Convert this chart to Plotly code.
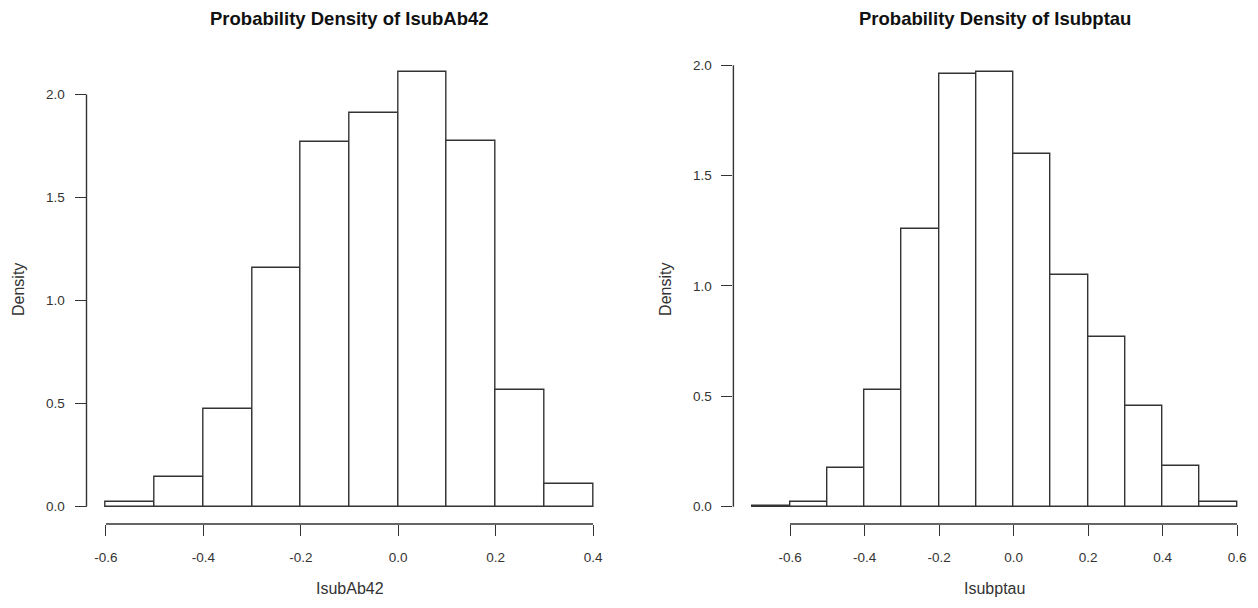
import numpy as np
import plotly.graph_objects as go

# ---- data ----
left_breaks = [-0.6, -0.5, -0.4, -0.3, -0.2, -0.1, 0.0, 0.1, 0.2, 0.3, 0.4]
left_density = [0.024, 0.146, 0.476, 1.160, 1.767, 1.908, 2.107, 1.772, 0.568, 0.112]
left_xticks = [-0.6, -0.4, -0.2, 0.0, 0.2, 0.4]
left_xticktext = ["-0.6", "-0.4", "-0.2", "0.0", "0.2", "0.4"]

right_breaks = [-0.7, -0.6, -0.5, -0.4, -0.3, -0.2, -0.1, 0.0, 0.1, 0.2, 0.3, 0.4, 0.5, 0.6]
right_density = [0.005, 0.023, 0.176, 0.530, 1.258, 1.960, 1.968, 1.600, 1.050, 0.770, 0.457, 0.186, 0.023]
right_xticks = [-0.6, -0.4, -0.2, 0.0, 0.2, 0.4, 0.6]
right_xticktext = ["-0.6", "-0.4", "-0.2", "0.0", "0.2", "0.4", "0.6"]

yticks = [0.0, 0.5, 1.0, 1.5, 2.0]
yticktext = ["0.0", "0.5", "1.0", "1.5", "2.0"]

titles = ["Probability Density of IsubAb42", "Probability Density of Isubptau"]
xlabels = ["IsubAb42", "Isubptau"]
ylabel = "Density"

# ---- style ----
OFF = 8                      # page body margin
W, H = 1258 - OFF, 608 - OFF
LINE = "#333333"
TEXT = "#333333"
FONT = "Liberation Sans, Arial, sans-serif"


def px(x):
    return (x - OFF) / W


def py(y):
    return 1 - (y - OFF) / H


fig = go.Figure()

panels = [
    (left_breaks, left_density, left_xticks, left_xticktext, "x", "y", (86.5, 612.5)),
    (right_breaks, right_density, right_xticks, right_xticktext, "x2", "y2", (733.4, 1256.4)),
]
ytop, ybot = 55, 524

layout = dict(
    width=W, height=H,
    margin=dict(l=0, r=0, t=0, b=0, autoexpand=False),
    paper_bgcolor="white", plot_bgcolor="white",
    showlegend=False,
    font=dict(family=FONT, color=TEXT, size=13.5),
    bargap=0,
)
shapes = []
annotations = []

for i, (breaks, dens, xt, xtt, xa, ya, (px0, px1)) in enumerate(panels):
    b = np.array(breaks)
    centers = (b[:-1] + b[1:]) / 2
    widths = np.diff(b)
    fig.add_trace(go.Bar(
        x=centers, y=dens, width=widths,
        marker=dict(color="white", line=dict(color=LINE, width=1.4)),
        xaxis=xa, yaxis=ya, hoverinfo="x+y",
    ))
    xr = b[-1] - b[0]
    xrange = [b[0] - 0.04 * xr, b[-1] + 0.04 * xr]
    ymax = max(dens)
    yrange = [-0.04 * ymax, ymax * 1.04]
    suffix = "" if i == 0 else "2"
    layout["xaxis" + suffix] = dict(
        domain=[px(px0), px(px1)], range=xrange, anchor=ya,
        tickvals=xt, ticktext=xtt, ticks="outside", ticklen=11, tickwidth=1.4,
        tickcolor=LINE, showgrid=False, zeroline=False, showline=False,
        ticklabelstandoff=10,
        tickfont=dict(size=13.5, color=TEXT), fixedrange=True,
    )
    layout["yaxis" + suffix] = dict(
        domain=[py(ybot), py(ytop)], range=yrange, anchor=xa,
        tickvals=yticks, ticktext=yticktext, ticks="outside", ticklen=11, tickwidth=1.4,
        tickcolor=LINE, showgrid=False, zeroline=False, showline=False,
        ticklabelstandoff=7,
        tickfont=dict(size=13.5, color=TEXT), fixedrange=True,
    )
    # R-style axis lines spanning the tick range
    shapes.append(dict(type="line", xref=xa, yref=ya + " domain",
                       x0=xt[0], x1=xt[-1], y0=0, y1=0,
                       line=dict(color=LINE, width=1.4)))
    shapes.append(dict(type="line", xref=xa + " domain", yref=ya,
                       x0=0, x1=0, y0=yticks[0], y1=yticks[-1],
                       line=dict(color=LINE, width=1.4)))
    cx = px((px0 + px1) / 2)
    annotations.append(dict(text="<b>" + titles[i] + "</b>", xref="paper", yref="paper",
                            x=cx, y=py(19), xanchor="center", yanchor="middle", showarrow=False,
                            font=dict(size=18.5, color="#111111", family=FONT)))
    annotations.append(dict(text=xlabels[i], xref="paper", yref="paper",
                            x=cx, y=py(588), xanchor="center", yanchor="middle", showarrow=False,
                            font=dict(size=16, color=TEXT, family=FONT)))
    annotations.append(dict(text=ylabel, xref="paper", yref="paper",
                            x=px(px0 - 68), y=py((ytop + ybot) / 2),
                            xanchor="center", yanchor="middle", showarrow=False,
                            textangle=-90,
                            font=dict(size=16, color=TEXT, family=FONT)))

layout["shapes"] = shapes
layout["annotations"] = annotations
fig.update_layout(**layout)
fig.write_html("out.html")
